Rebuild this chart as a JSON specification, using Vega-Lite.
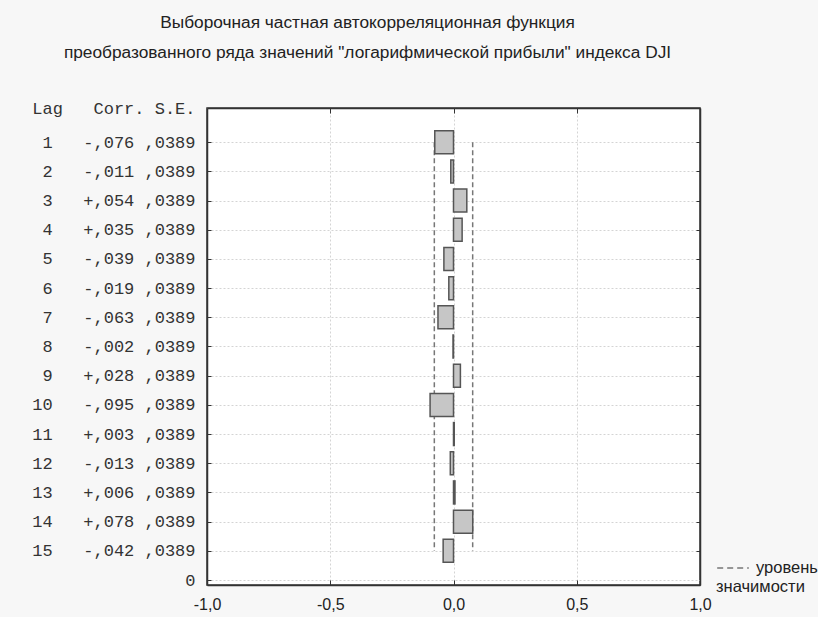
{
  "$schema": "https://vega.github.io/schema/vega-lite/v6.json",
  "autosize": {"type": "none"},
  "width": 493,
  "height": 477,
  "padding": {"left": 207, "top": 108, "right": 118, "bottom": 32},
  "background": "#f7f7f7",
  "title": {
    "text": ["Выборочная частная автокорреляционная функция", "преобразованного ряда значений \"логарифмической прибыли\" индекса DJI"],
    "font": "Liberation Sans",
    "fontSize": 17.3,
    "fontWeight": "normal",
    "color": "#222",
    "lineHeight": 30,
    "anchor": "middle",
    "frame": "group",
    "dx": -86,
    "offset": 38
  },
  "data": {
    "values": [
      {"lag": 1, "corr": -0.076, "se": 0.0389, "lo": -0.0778, "hi": 0.0778},
      {"lag": 2, "corr": -0.011, "se": 0.0389, "lo": -0.0778, "hi": 0.0778},
      {"lag": 3, "corr": 0.054, "se": 0.0389, "lo": -0.0778, "hi": 0.0778},
      {"lag": 4, "corr": 0.035, "se": 0.0389, "lo": -0.0778, "hi": 0.0778},
      {"lag": 5, "corr": -0.039, "se": 0.0389, "lo": -0.0778, "hi": 0.0778},
      {"lag": 6, "corr": -0.019, "se": 0.0389, "lo": -0.0778, "hi": 0.0778},
      {"lag": 7, "corr": -0.063, "se": 0.0389, "lo": -0.0778, "hi": 0.0778},
      {"lag": 8, "corr": -0.002, "se": 0.0389, "lo": -0.0778, "hi": 0.0778},
      {"lag": 9, "corr": 0.028, "se": 0.0389, "lo": -0.0778, "hi": 0.0778},
      {"lag": 10, "corr": -0.095, "se": 0.0389, "lo": -0.0778, "hi": 0.0778},
      {"lag": 11, "corr": 0.003, "se": 0.0389, "lo": -0.0778, "hi": 0.0778},
      {"lag": 12, "corr": -0.013, "se": 0.0389, "lo": -0.0778, "hi": 0.0778},
      {"lag": 13, "corr": 0.006, "se": 0.0389, "lo": -0.0778, "hi": 0.0778},
      {"lag": 14, "corr": 0.078, "se": 0.0389, "lo": -0.0778, "hi": 0.0778},
      {"lag": 15, "corr": -0.042, "se": 0.0389, "lo": -0.0778, "hi": 0.0778}
    ]
  },
  "config": {
    "view": {"stroke": "#333", "strokeWidth": 1.5, "fill": "white"},
    "axis": {
      "domainColor": "#333",
      "domainWidth": 1.5,
      "tickColor": "#333",
      "tickWidth": 1,
      "gridColor": "#d4d4d4",
      "gridDash": [2, 2],
      "gridWidth": 1,
      "labelColor": "#222"
    }
  },
  "resolve": {"axis": {"x": "independent", "y": "independent"}},
  "layer": [
    {
      "mark": {"type": "line", "strokeDash": [5, 3], "strokeWidth": 1.5},
      "encoding": {
        "x": {
          "field": "lo", "type": "quantitative",
          "scale": {"domain": [-1, 1], "nice": false, "zero": false},
          "axis": {
            "orient": "bottom",
            "title": null,
            "values": [-1, -0.5, 0, 0.5, 1],
            "labelExpr": "replace(replace(format(datum.value, '.1f'), '.', ','), '\u2212', '-')",
            "labelFont": "Liberation Sans",
            "labelFontSize": 16,
            "labelFlush": false,
            "labelOverlap": false,
            "tickSize": -5,
            "labelPadding": 16,
            "grid": true
          }
        },
        "y": {
          "field": "lag", "type": "quantitative",
          "scale": {"domain": [0, 16], "reverse": true, "nice": false, "zero": false},
          "axis": {
            "orient": "left",
            "title": "Lag\u00a0\u00a0\u00a0Corr.\u00a0S.E.",
            "titleAngle": 0,
            "titleAlign": "right",
            "titleBaseline": "middle",
            "titleX": -12,
            "titleY": 0,
            "titleFont": "Liberation Mono",
            "titleFontSize": 17,
            "titleFontWeight": "normal",
            "titleColor": "#333",
            "values": [1, 2, 3, 4, 5, 6, 7, 8, 9, 10, 11, 12, 13, 14, 15, 16],
            "labelExpr": "['', '\u00a01\u00a0\u00a0\u00a0-,076\u00a0,0389', '\u00a02\u00a0\u00a0\u00a0-,011\u00a0,0389', '\u00a03\u00a0\u00a0\u00a0+,054\u00a0,0389', '\u00a04\u00a0\u00a0\u00a0+,035\u00a0,0389', '\u00a05\u00a0\u00a0\u00a0-,039\u00a0,0389', '\u00a06\u00a0\u00a0\u00a0-,019\u00a0,0389', '\u00a07\u00a0\u00a0\u00a0-,063\u00a0,0389', '\u00a08\u00a0\u00a0\u00a0-,002\u00a0,0389', '\u00a09\u00a0\u00a0\u00a0+,028\u00a0,0389', '10\u00a0\u00a0\u00a0-,095\u00a0,0389', '11\u00a0\u00a0\u00a0+,003\u00a0,0389', '12\u00a0\u00a0\u00a0-,013\u00a0,0389', '13\u00a0\u00a0\u00a0+,006\u00a0,0389', '14\u00a0\u00a0\u00a0+,078\u00a0,0389', '15\u00a0\u00a0\u00a0-,042\u00a0,0389', '0'][datum.value]",
            "labelFont": "Liberation Mono",
            "labelFontSize": 17,
            "labelColor": "#333",
            "labelAlign": "right",
            "labelBaseline": "middle",
            "labelOverlap": false,
            "labelFlush": false,
            "tickSize": -4,
            "labelPadding": 16,
            "grid": true
          }
        },
        "order": {"field": "lag"},
        "stroke": {
          "datum": "уровень",
          "scale": {"range": ["#777"]},
          "legend": {
            "orient": "none",
            "legendX": 509,
            "legendY": 443,
            "title": "значимости",
            "titleOrient": "bottom",
            "titleAnchor": "start",
            "titleFont": "Liberation Sans",
            "titleFontSize": 16.5,
            "titleFontWeight": "normal",
            "titleColor": "#222",
            "titlePadding": 2,
            "labelFont": "Liberation Sans",
            "labelFontSize": 16.5,
            "labelColor": "#222",
            "symbolType": "stroke",
            "symbolDash": [6, 4],
            "symbolStrokeWidth": 1.5,
            "symbolSize": 1000,
            "labelOffset": 6,
            "padding": 0
          }
        }
      }
    },
    {
      "mark": {"type": "line", "strokeDash": [5, 3], "strokeWidth": 1.5},
      "encoding": {
        "x": {"field": "hi", "type": "quantitative", "axis": {"orient": "top", "title": null, "labels": false, "values": [-1, -0.5, 0, 0.5, 1], "tickSize": -5, "grid": false}},
        "y": {"field": "lag", "type": "quantitative", "axis": {"orient": "right", "title": null, "labels": false, "values": [1, 2, 3, 4, 5, 6, 7, 8, 9, 10, 11, 12, 13, 14, 15], "tickSize": -4, "grid": false}},
        "order": {"field": "lag"},
        "stroke": {"datum": "уровень"}
      }
    },
    {
      "mark": {"type": "bar", "height": 23, "fill": "#c6c6c6", "stroke": "#555", "strokeWidth": 1.5},
      "encoding": {
        "x": {"field": "corr", "type": "quantitative", "axis": null},
        "x2": {"datum": 0},
        "y": {"field": "lag", "type": "quantitative", "axis": null}
      }
    }
  ]
}
